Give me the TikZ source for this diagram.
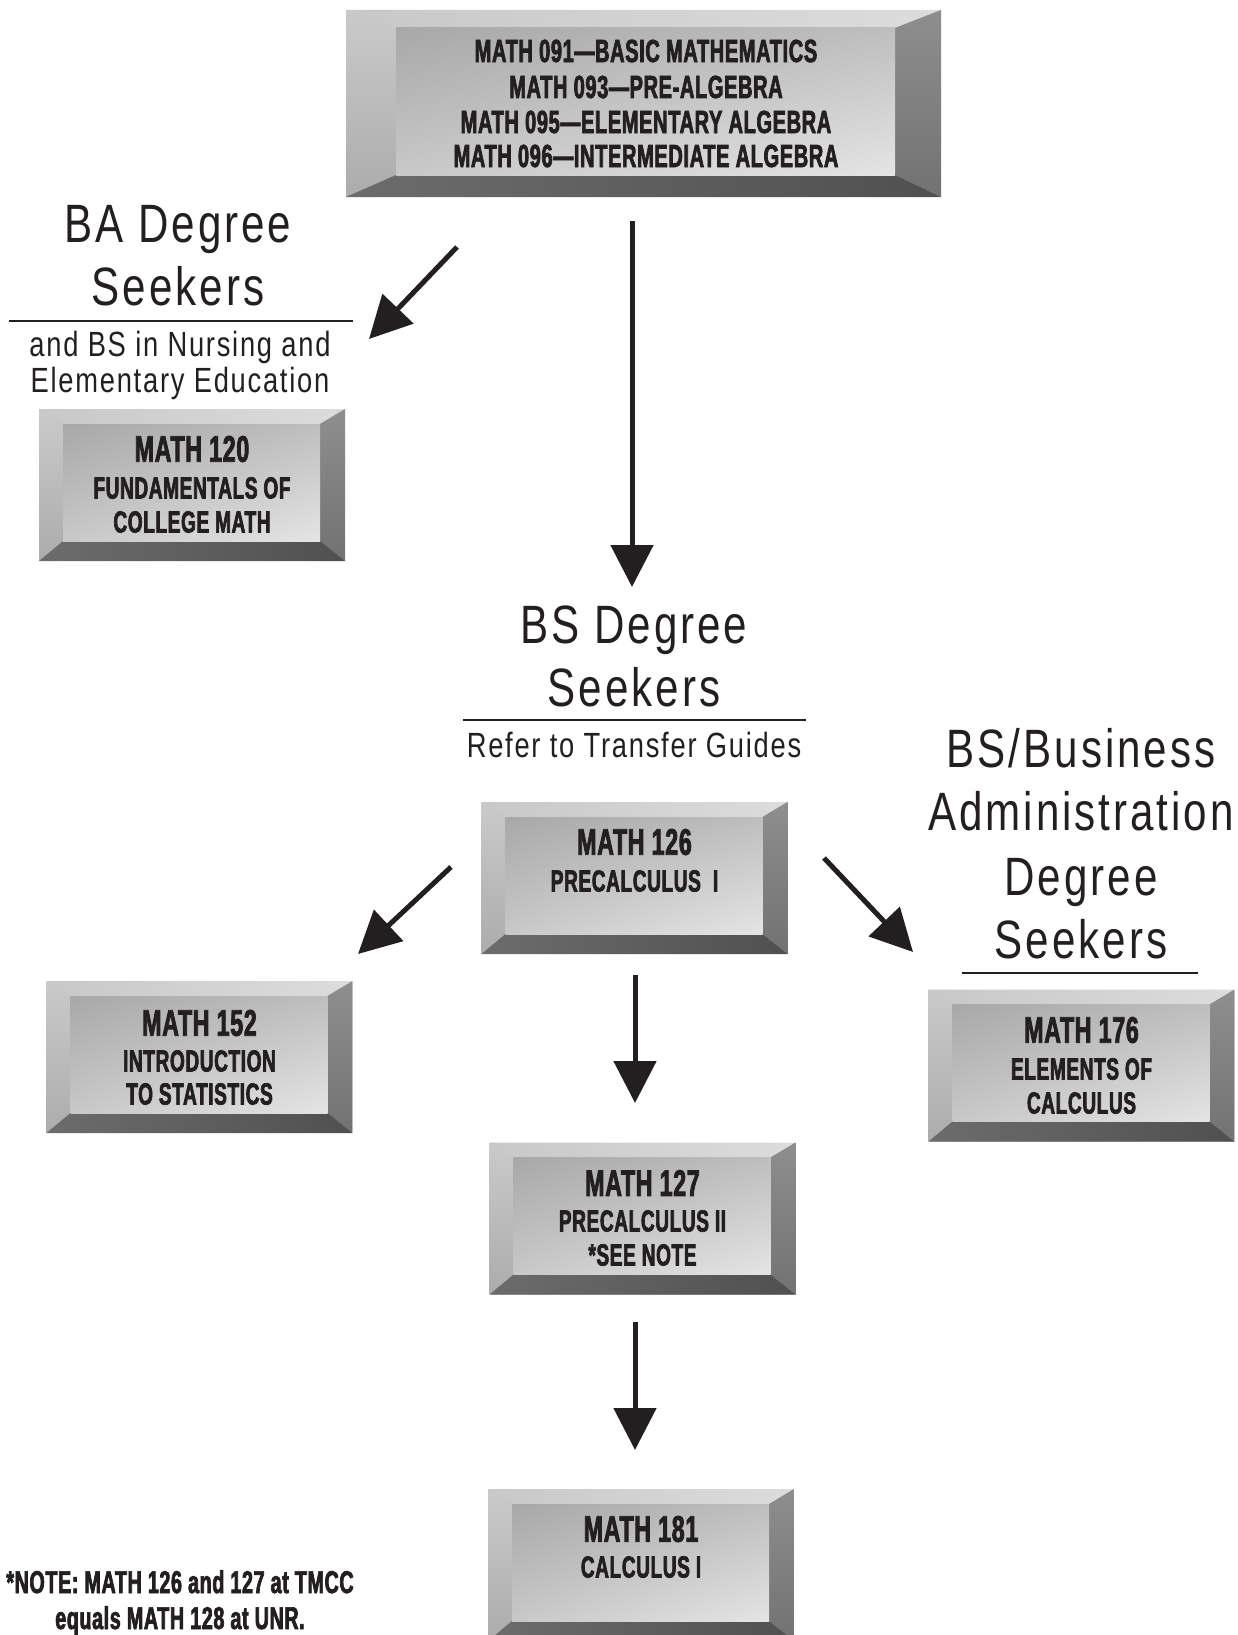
\documentclass[tikz,border=0pt]{standalone}
\usepackage{fontspec}
\setmainfont{Liberation Sans}
\newfontfamily\cnd{Liberation Sans}[FakeStretch=0.625, LetterSpace=2, BoldFeatures={FakeBold=2.2}]
\newfontfamily\hdf{Liberation Sans}[FakeStretch=0.78, LetterSpace=5.5]
\newfontfamily\sbf{Liberation Sans}[FakeStretch=0.78, LetterSpace=5]
\usetikzlibrary{arrows.meta,shadings}

\definecolor{ink}{HTML}{231F20}
\definecolor{bvTopA}{HTML}{C8C8C8}
\definecolor{bvTopB}{HTML}{DCDCDC}
\definecolor{bvLeftA}{HTML}{CACACA}
\definecolor{bvLeftB}{HTML}{ACACAC}
\definecolor{bvRightA}{HTML}{8E8E8E}
\definecolor{bvRightB}{HTML}{727272}
\definecolor{bvBotA}{HTML}{6C6C6C}
\definecolor{bvBotB}{HTML}{505050}
\definecolor{faceUL}{HTML}{A8A8A8}
\definecolor{faceUR}{HTML}{BEBEBE}
\definecolor{faceLL}{HTML}{C8C8C8}
\definecolor{faceLR}{HTML}{E4E4E4}

\tikzset{
  bevbox/.style n args={4}{rectangle, inner sep=0pt, fill=faceUR,
    path picture={
      \coordinate (osw) at (path picture bounding box.south west);
      \coordinate (ose) at (path picture bounding box.south east);
      \coordinate (one) at (path picture bounding box.north east);
      \coordinate (onw) at (path picture bounding box.north west);
      \coordinate (isw) at ([xshift=#1pt,yshift=#4pt]osw);
      \coordinate (ise) at ([xshift=-#3pt,yshift=#4pt]ose);
      \coordinate (ine) at ([xshift=-#3pt,yshift=-#2pt]one);
      \coordinate (inw) at ([xshift=#1pt,yshift=-#2pt]onw);
      \shade[left color=bvTopA, right color=bvTopB] (onw)--(one)--(ine)--(inw)--cycle;
      \shade[top color=bvLeftA, bottom color=bvLeftB] (onw)--(inw)--(isw)--(osw)--cycle;
      \shade[top color=bvRightA, bottom color=bvRightB] (one)--(ose)--(ise)--(ine)--cycle;
      \shade[left color=bvBotA, right color=bvBotB] (osw)--(isw)--(ise)--(ose)--cycle;
      \shade[upper left=faceUL, upper right=faceUR, lower left=faceLL, lower right=faceLR] (isw) rectangle (ine);
    }},
  smallbox/.style={bevbox={24}{15}{25}{20}, minimum width=306pt, minimum height=152pt},
  ttl/.style={inner sep=0pt, text=ink, font=\fontsize{37}{40}\selectfont\cnd\bfseries},
  sub/.style={inner sep=0pt, text=ink, font=\fontsize{30.5}{32}\selectfont\cnd\bfseries},
  topt/.style={inner sep=0pt, text=ink, font=\fontsize{32}{34}\selectfont\cnd\bfseries},
  notet/.style={inner sep=0pt, anchor=base, text=ink, font=\fontsize{31.5}{34}\selectfont\cnd\bfseries},
  hd/.style={inner sep=0pt, anchor=base, text=ink, font=\fontsize{54}{60}\selectfont\hdf},
  hs/.style={inner sep=0pt, anchor=base, text=ink, font=\fontsize{35}{38}\selectfont\sbf},
  arr/.style={draw=ink, line width=5pt, -{Triangle[length=42pt,width=42pt]}},
  rulel/.style={draw=ink, line width=2pt}
}

\begin{document}
\begin{tikzpicture}[x=1pt,y=-1pt]
\useasboundingbox[fill=white] (0,0) rectangle (1238,1635);

% top box
\node[bevbox={50}{18}{46}{22}, minimum width=595pt, minimum height=187pt] (b09x) at (643.5,103.5) {};
\node[topt] (l1) at (646,51) {MATH 091—BASIC MATHEMATICS};
\node[topt] (l2) at (646,87) {MATH 093—PRE-ALGEBRA};
\node[topt] (l3) at (646,122) {MATH 095—ELEMENTARY ALGEBRA};
\node[topt] (l4) at (646,156) {MATH 096—INTERMEDIATE ALGEBRA};

% BA heading
\node[hd] (ba1) at (178,242) {BA Degree};
\node[hd] (ba2) at (178,305) {Seekers};
\draw[rulel] (9,321) -- (353,321);
\node[hs] (ba3) at (180,356) {and BS in Nursing and};
\node[hs] (ba4) at (180,392) {Elementary Education};

% MATH 120
\node[smallbox] (b120) at (192,485) {};
\node[ttl] (t120a) at (192,449) {MATH 120};
\node[sub] (t120b) at (192,488) {FUNDAMENTALS OF};
\node[sub] (t120c) at (192,522) {COLLEGE MATH};

% BS heading
\node[hd] (bs1) at (634,643) {BS Degree};
\node[hd] (bs2) at (634,706) {Seekers};
\draw[rulel] (463,720) -- (806,720);
\node[hs] (bs3) at (634,757) {Refer to Transfer Guides};

% MATH 126
\node[smallbox] (b126) at (634.5,878) {};
\node[ttl] (t126a) at (634.5,842) {MATH 126};
\node[sub] (t126b) at (634.5,881) {PRECALCULUS\hspace{12pt}I};

% Business heading
\node[hd] (bz1) at (1081,767) {BS/Business};
\node[hd] (bz2) at (1081,830) {Administration};
\node[hd] (bz3) at (1081,895) {Degree};
\node[hd] (bz4) at (1081,958) {Seekers};
\draw[rulel] (962,973) -- (1198,973);

% MATH 152
\node[smallbox] (b152) at (199.5,1057) {};
\node[ttl] (t152a) at (199.5,1023) {MATH 152};
\node[sub] (t152b) at (199.5,1061) {INTRODUCTION};
\node[sub] (t152c) at (199.5,1094) {TO STATISTICS};

% MATH 176
\node[smallbox] (b176) at (1081.5,1065.5) {};
\node[ttl] (t176a) at (1081.5,1030) {MATH 176};
\node[sub] (t176b) at (1081.5,1069) {ELEMENTS OF};
\node[sub] (t176c) at (1081.5,1103) {CALCULUS};

% MATH 127
\node[smallbox] (b127) at (642.5,1218.5) {};
\node[ttl] (t127a) at (642.5,1183) {MATH 127};
\node[sub] (t127b) at (642.5,1221) {PRECALCULUS II};
\node[sub] (t127c) at (642.5,1255) {*SEE NOTE};

% MATH 181
\node[smallbox] (b181) at (641,1565) {};
\node[ttl] (t181a) at (641,1529) {MATH 181};
\node[sub] (t181b) at (641,1567) {CALCULUS I};

% note
\node[notet] (n1) at (180,1593) {*NOTE: MATH 126 and 127 at TMCC};
\node[notet] (n2) at (180,1629) {equals MATH 128 at UNR.};

% arrows
\coordinate (a1s) at (457,247); \coordinate (a1e) at (369,339);
\coordinate (a2s) at (632,221); \coordinate (a2e) at (632,587);
\coordinate (a3s) at (451,867); \coordinate (a3e) at (358,954);
\coordinate (a4s) at (824,858); \coordinate (a4e) at (913,952);
\coordinate (a5s) at (635,975); \coordinate (a5e) at (635,1103);
\coordinate (a6s) at (635,1322); \coordinate (a6e) at (635,1450);
\draw[arr] (a1s) -- (a1e);
\draw[arr] (a2s) -- (a2e);
\draw[arr] (a3s) -- (a3e);
\draw[arr] (a4s) -- (a4e);
\draw[arr] (a5s) -- (a5e);
\draw[arr] (a6s) -- (a6e);
\end{tikzpicture}
\end{document}
